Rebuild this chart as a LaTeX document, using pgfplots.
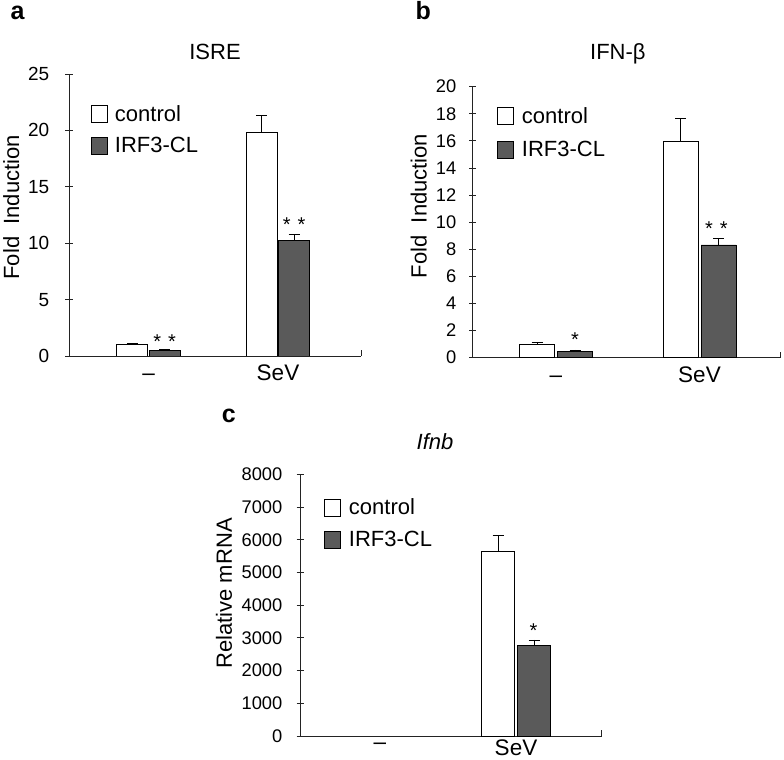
\documentclass[border=0pt]{standalone}
\usepackage{fontspec}
\setmainfont{Liberation Sans}
\usepackage{pgfplots}
\pgfplotsset{compat=1.18}
\definecolor{bargray}{RGB}{90,90,90}
\definecolor{axgray}{RGB}{35,35,35}
\newcommand{\fs}[1]{\fontsize{#1}{#1}\selectfont}

\pgfplotsset{
  panel/.style={
    scale only axis,
    anchor=south west,
    axis x line=bottom, axis y line=left,
    axis line style={-, line width=0.9bp, draw=axgray},
    ybar,
    ymin=0,
    xtick={0,1}, xticklabels={–,SeV},
    xtick style={draw=none},
    extra x tick labels={},
    extra x tick style={major tick length=6bp, tick align=inside, xtick style={draw=axgray, line width=0.9bp}},
    ytick style={draw=axgray, line width=0.9bp},
    tick align=center, major tick length=7bp,
    /pgf/number format/assume math mode=true,
    /pgf/number format/1000 sep={},
    xticklabel style={font=\fs{22.5bp}, anchor=base, inner sep=0pt, yshift=-21bp},
    legend cell align=left,
    legend image code/.code={\draw[##1,draw=black,line width=0.8bp] (0bp,-8.5bp) rectangle (16bp,8.5bp);},
    legend style={draw=none, fill=none, inner sep=0pt, font=\fs{22bp}, row sep=14bp, column sep=7bp, anchor=north west, nodes={inner sep=0pt}},
    ctrl/.style={fill=white, draw=black, line width=0.8bp},
    irf/.style={fill=bargray, draw=black, line width=0.8bp},
    error bars/y dir=plus, error bars/y explicit,
    error bars/error bar style={line width=0.9bp, draw=black},
    error bars/error mark options={rotate=90, mark size=5.5bp, line width=0.9bp, draw=black},
  },
}

\begin{document}
\begin{tikzpicture}
\useasboundingbox (0,0) rectangle (784bp,760bp);

% panel labels
\node[anchor=base, font=\fs{25bp}\bfseries, inner sep=0pt] at (17.5bp,740bp) {a};
\node[anchor=base, font=\fs{25bp}\bfseries, inner sep=0pt] at (423.3bp,740bp) {b};
\node[anchor=base, font=\fs{25bp}\bfseries, inner sep=0pt] at (228.8bp,337.3bp) {c};

% ---------------- panel a ----------------
\begin{axis}[panel,
  at={(69bp,404bp)}, width=292bp, height=282bp,
  xmin=-0.614, xmax=1.641, ymax=25,
  ytick={0,5,...,25},
  extra x ticks={1.641},
  yticklabel style={font=\fs{19bp}, anchor=east, inner sep=0pt, xshift=-16bp},
  every axis title/.style={at={(0.5,1)}, anchor=base, yshift=14bp, font=\fs{22bp}},
  title={ISRE},
  every axis y label/.style={at={(axis description cs:-0.171,0.527)}, rotate=90, anchor=base, font=\fs{22bp}},
  ylabel={Fold\ \ Induction},
  legend style={at={(axis description cs:0.0753,0.890)}},
]
\addplot[ctrl, bar width=31bp, bar shift=-16.25bp] coordinates {(0,1.0) +- (0,0.12) (1,19.8) +- (0,1.5)};
\addlegendentry{control}
\addplot[irf, bar width=31bp, bar shift=16.25bp] coordinates {(0,0.47) +- (0,0.12) (1,10.25) +- (0,0.55)};
\addlegendentry{IRF3-CL}
\node[anchor=base, font=\fs{20bp}, inner sep=0pt, xshift=16.25bp, yshift=-11.5bp] at (axis cs:0,1.71) {*\hspace{7bp}*};
\node[anchor=base, font=\fs{20bp}, inner sep=0pt, xshift=16.25bp, yshift=-11.5bp] at (axis cs:1,12.06) {*\hspace{7bp}*};
\end{axis}

% ---------------- panel b ----------------
\begin{axis}[panel,
  at={(472.7bp,402.3bp)}, width=307.3bp, height=271bp,
  xmin=-0.5805, xmax=1.561, ymax=20,
  ytick={0,2,...,20},
  extra x ticks={1.561},
  yticklabel style={font=\fs{18.3bp}, anchor=east, inner sep=0pt, xshift=-12.7bp},
  every axis title/.style={at={(0.5,1)}, anchor=base, xshift=-8.5bp, yshift=26.7bp, font=\fs{22bp}},
  title={IFN-β},
  every axis y label/.style={at={(axis description cs:-0.150,0.560)}, rotate=90, anchor=base, font=\fs{22bp}},
  ylabel={Fold\ \ Induction},
  legend style={at={(axis description cs:0.079,0.924)}, row sep=15.5bp, column sep=8bp},
]
\addplot[ctrl, bar width=35bp, bar shift=-19bp] coordinates {(0,1.0) +- (0,0.1) (1,15.97) +- (0,1.67)};
\addlegendentry{control}
\addplot[irf, bar width=35bp, bar shift=19bp] coordinates {(0,0.47) +- (0,0.1) (1,8.32) +- (0,0.49)};
\addlegendentry{IRF3-CL}
\node[anchor=base, font=\fs{20bp}, inner sep=0pt, xshift=19bp, yshift=-11.5bp] at (axis cs:0,1.68) {*};
\node[anchor=base, font=\fs{20bp}, inner sep=0pt, xshift=17bp, yshift=-11.5bp] at (axis cs:1,9.87) {*\hspace{7bp}*};
\end{axis}

% ---------------- panel c ----------------
\begin{axis}[panel,
  at={(300bp,24bp)}, width=301.7bp, height=261.7bp,
  xmin=-0.588, xmax=1.630, ymax=8000,
  ytick={0,1000,...,8000},
  extra x ticks={1.630},
  xticklabels={\raisebox{6bp}{–},SeV},
  xticklabel style={yshift=5.5bp},
  yticklabel style={font=\fs{18.3bp}, anchor=east, inner sep=0pt, xshift=-14bp},
  every axis title/.style={at={(0.5,1)}, anchor=base, xshift=-15.8bp, yshift=24.8bp, font=\fs{22bp}\itshape},
  title={Ifnb},
  every axis y label/.style={at={(axis description cs:-0.226,0.545)}, rotate=90, anchor=base, font=\fs{22bp}},
  ylabel={Relative mRNA},
  legend style={at={(axis description cs:0.0795,0.908)}, row sep=14.7bp, column sep=8bp},
]
\addplot[ctrl, bar width=32.5bp, bar shift=-18bp] coordinates {(1,5630) +- (0,490)};
\addlegendentry{control}
\addplot[irf, bar width=32.5bp, bar shift=18bp] coordinates {(1,2780) +- (0,155)};
\addlegendentry{IRF3-CL}
\node[anchor=base, font=\fs{20bp}, inner sep=0pt, xshift=17.5bp, yshift=-11.5bp] at (axis cs:1,3363) {*};
\end{axis}
\end{tikzpicture}
\end{document}
